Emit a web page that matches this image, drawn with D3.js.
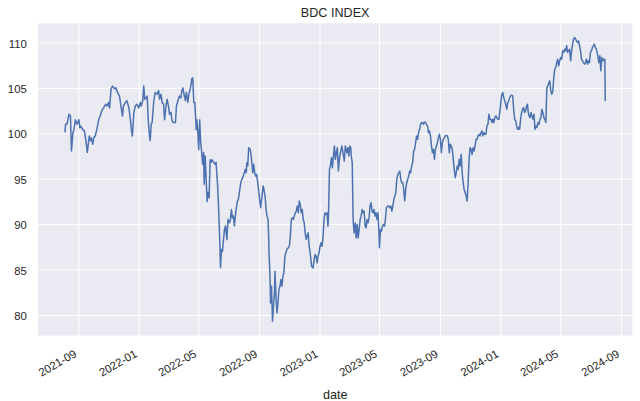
<!DOCTYPE html>
<html><head><meta charset="utf-8">
<script src="https://cdn.jsdelivr.net/npm/d3@7"></script>
<style>
body{margin:0;background:#fff}
svg{display:block}
text{font-family:"Liberation Sans",Arial,sans-serif;fill:#262626}
</style>
</head><body>
<svg id="chart" width="640" height="401"></svg>
<script>
const chartTitle = "BDC INDEX";
const xAxisLabel = "date";
const startDate = "2021-08-05";
// days since startDate
const dayOffsets = [
0,1,4,8,11,13,16,18,21,24,28,30,32,36,39,42,45,47,49,51,53,56,58,61,65,68,71,75,78,82,85,88,90,93,96,100,103,106,110,113,116,118,122,125,129,132,134,136,139,142,145,149,152,154,157,159,161,164,166,168,170,172,174,176,179,182,186,189,191,194,196,199,201,204,206,209,211,214,216,218,221,223,225,227,229,231,234,236,238,241,243,245,248,250,252,254,256,258,260,262,264,265,266,268,270,272,273,274,276,278,280,281,283,285,287,289,291,293,295,297,300,303,305,308,310,312,314,316,318,320,322,324,327,329,332,334,336,338,340,342,345,348,350,
355,357,360,364,366,367,369,371,374,376,379,381,383,385,387,390,393,395,397,400,401,404,406,408,410,411,412,414,415,417,419,421,423,424,426,428,430,432,434,436,438,440,442,444,446,448,451,453,455,457,459,461,463,465,467,469,471,473,475,477,479,481,483,485,487,489,491,493,495,498,501,503,505,507,509,511,513,515,517,519,521,523,525,527,529,531,532,534,536,538,540,542,544,546,548,550,552,554,
555,559,562,564,566,569,571,573,575,577,578,580,581,582,584,586,588,590,592,594,596,598,600,602,604,606,608,610,612,614,616,618,620,622,624,626,628,630,632,634,635,637,639,641,643,645,647,649,652,654,656,658,660,662,664,666,668,670,672,674,676,678,680,682,684,686,688,690,692,694,696,698,700,702,704,706,708,710,712,714,716,718,720,722,724,726,728,730,732,734,736,738,740,742,744,746,748,750,752,754,756,758,760,762,764,766,768,770,772,774,776,778,780,782,784,786,788,790,792,794,796,798,800,802,804,806,808,810,812,814,816,818,820,822,824,826,828,830,832,834,836,838,840,842,844,846,848,850,852,854,856,858,
860,862,864,866,868,870,872,874,876,878,880,882,884,886,888,890,892,894,896,898,900,902,904,906,908,910,912,914,916,918,920,922,924,926,928,930,932,934,935,937,939,941,943,945,947,949,951,953,955,957,959,961,963,965,967,969,971,973,975,977,979,981,983,985,987,989,991,993,995,997,999,1001,1003,1005,1007,1009,1011,1013,1015,1017,1019,1021,1023,1025,1027,1029,1031,1033,1035,1037,1039,1041,1043,1045,1047,1049,1051,1053,1055,1057,1059,1061,1063,1065,1067,1069,1071,1073,1076,1078,1080,1082,1084,1086,1088,1090,1091
];
const indexValues = [
100.1,101.0,101.0,102.1,101.9,98.05,100.1,100.4,101.5,101.0,101.5,100.6,100.8,100.4,100.3,99.3,97.9,98.8,99.7,99.2,99.5,98.8,99.5,99.7,100.6,101.5,101.9,102.6,102.8,103.2,103.0,103.4,102.8,104.9,105.2,104.9,105.0,104.5,104.1,103.0,101.9,103.0,103.4,103.6,102.8,101.5,100.4,99.7,102.3,103.0,103.2,102.8,103.4,103.0,103.6,105.2,103.75,103.9,104.1,101.5,100.1,99.2,101.0,101.2,103.4,104.5,104.3,104.7,103.75,104.3,103.4,103.2,101.5,103.0,103.75,103.0,102.1,102.3,101.4,101.2,101.2,101.2,103.0,103.4,103.75,104.1,103.9,104.7,105.0,104.1,103.6,104.5,103.4,104.3,104.7,105.2,106.0,106.1,103.4,103.4,101.5,100.4,101.5,100.4,98.2,101.5,100.1,99.0,97.9,96.6,97.9,94.4,97.5,94.9,92.5,93.5,92.9,97.1,96.8,97.1,96.8,96.6,96.8,94.4,92.0,89.0,85.2,87.2,87.0,88.3,89.4,89.8,88.3,90.5,90.15,90.5,91.6,90.7,90.9,89.8,91.4,92.5,92.7,
94.56,94.93,95.29,96.03,95.66,96.76,96.40,98.42,98.24,97.50,95.66,96.58,95.66,95.29,95.48,94.19,92.72,91.80,92.72,94.19,94.01,93.09,91.62,90.88,90.51,89.04,86.84,84.26,81.32,83.16,79.30,80.96,82.43,84.82,82.06,80.22,81.32,82.79,83.16,83.90,83.16,84.26,84.63,86.47,86.84,87.21,87.39,87.57,88.68,90.51,90.70,90.51,90.88,91.25,91.43,91.99,91.25,92.54,92.17,91.25,91.62,90.51,90.15,89.04,88.31,88.68,89.04,87.57,86.84,85.37,85.18,86.10,86.65,86.47,85.74,86.47,86.84,87.57,87.94,87.57,88.49,90.51,91.25,91.07,91.25,89.78,90.88,96.03,96.40,97.32,96.21,97.50,98.60,97.13,97.87,98.42,95.85,97.13,
97.50,98.60,97.68,96.95,98.60,97.87,98.42,97.50,98.60,98.42,97.50,96.76,93.09,90.15,89.04,90.15,88.49,89.96,88.49,89.41,90.51,90.88,91.62,91.25,91.43,89.78,89.60,90.51,90.15,90.70,91.99,92.35,91.43,91.25,91.62,90.88,91.25,90.51,91.25,89.04,87.39,89.41,89.23,89.78,89.96,89.78,90.51,91.80,91.99,91.99,91.80,91.99,91.43,91.99,92.72,93.09,93.46,94.93,95.48,95.66,95.85,94.93,94.56,94.56,93.82,92.54,93.82,94.56,94.93,95.29,95.85,95.66,96.40,96.76,98.05,98.24,98.97,99.71,99.34,100.07,100.44,100.99,101.18,101.18,100.99,101.25,101.18,100.99,100.81,100.07,100.26,99.71,98.60,97.87,98.24,97.13,98.24,98.60,98.97,99.52,99.89,99.34,97.87,98.97,99.34,99.52,99.71,99.78,99.71,99.34,97.87,98.79,98.60,98.24,97.13,96.03,95.11,95.66,96.40,96.03,97.13,96.40,97.68,95.66,94.56,93.82,93.46,93.09,92.54,94.56,97.13,98.42,98.24,97.68,98.42,98.05,98.60,99.34,99.34,99.71,99.89,99.71,100.07,100.26,99.71,100.07,99.89,99.89,100.81,100.99,102.10,101.54,
101.54,101.18,101.54,101.18,101.73,101.91,101.73,101.54,101.54,102.28,103.38,104.30,104.49,103.93,103.57,103.20,102.65,103.38,103.57,103.93,104.12,104.19,104.12,102.65,101.54,101.36,100.81,100.44,100.63,100.44,101.54,102.28,102.65,102.83,102.28,102.46,103.01,103.20,102.46,101.91,101.73,102.28,101.91,101.54,102.10,100.44,100.81,100.63,101.18,100.99,101.54,101.73,102.65,102.28,101.73,101.54,101.18,105.04,105.22,105.59,105.77,104.67,104.30,104.67,106.14,107.06,107.24,107.79,108.16,107.43,107.98,108.35,108.16,109.08,108.90,109.26,109.08,109.63,108.90,109.08,109.26,107.98,109.08,109.82,110.37,110.55,110.37,110.18,110.00,110.18,109.63,109.08,108.16,107.98,107.79,107.61,107.79,108.16,107.61,107.98,107.79,108.90,109.08,109.45,109.63,109.82,109.45,109.26,108.53,107.79,108.53,106.88,108.35,107.98,108.16,108.16,103.57
];
const yTickValues = [80, 85, 90, 95, 100, 105, 110];
const xTickDates = ["2021-09-01","2022-01-01","2022-05-01","2022-09-01","2023-01-01","2023-05-01","2023-09-01","2024-01-01","2024-05-01","2024-09-01"];

const W = 640, H = 401;
const margin = {top: 23.3, right: 7.7, bottom: 65.5, left: 38};
const parse = d3.utcParse("%Y-%m-%d");
const t0 = parse(startDate);
const n = Math.min(dayOffsets.length, indexValues.length);
const data = d3.range(n).map(i => ({date: d3.utcDay.offset(t0, dayOffsets[i]), value: indexValues[i]}));

const [xmin, xmax] = d3.extent(data, d => d.date);
const xpad = (xmax - xmin) * 0.05;
const x = d3.scaleUtc().domain([new Date(+xmin - xpad), new Date(+xmax + xpad)])
  .range([margin.left, W - margin.right]);
const [ymin, ymax] = d3.extent(data, d => d.value);
const ypad = (ymax - ymin) * 0.05;
const y = d3.scaleLinear().domain([ymin - ypad, ymax + ypad])
  .range([H - margin.bottom, margin.top]);

const svg = d3.select("#chart");
const pw = W - margin.left - margin.right, ph = H - margin.top - margin.bottom;

svg.append("rect").attr("x", margin.left).attr("y", margin.top)
  .attr("width", pw).attr("height", ph).attr("fill", "#EAEAF2");

const xTicks = xTickDates.map(parse);

const gy = svg.append("g").attr("transform", `translate(${margin.left},0)`)
  .call(d3.axisLeft(y).tickValues(yTickValues).tickSize(-pw).tickFormat(""));
gy.select(".domain").remove();
gy.selectAll("line").attr("stroke", "#fff").attr("stroke-width", 1);

const gx = svg.append("g").attr("transform", `translate(0,${margin.top})`)
  .call(d3.axisBottom(x).tickValues(xTicks).tickSize(ph).tickFormat(""));
gx.select(".domain").remove();
gx.selectAll("line").attr("stroke", "#fff").attr("stroke-width", 1);

const ly = svg.append("g").attr("transform", `translate(${margin.left},0)`)
  .call(d3.axisLeft(y).tickValues(yTickValues).tickSize(0).tickPadding(11.3).tickFormat(d3.format("d")));
ly.select(".domain").remove();
ly.selectAll("text").attr("font-size", "11.3px").attr("font-family", null).attr("fill", "#262626")
  .attr("dy", "0.4em");

const lx = svg.append("g").attr("transform", `translate(0,${H - margin.bottom})`)
  .call(d3.axisBottom(x).tickValues(xTicks).tickSize(0).tickFormat(d3.utcFormat("%Y-%m")));
lx.select(".domain").remove();
lx.selectAll("text")
  .attr("font-size", "11.3px").attr("font-family", null).attr("fill", "#262626")
  .attr("text-anchor", "end")
  .attr("x", -5.5).attr("y", 13.5).attr("dy", "0.72em")
  .attr("transform", "rotate(-30,-5.5,13.5)");

svg.append("path").datum(data)
  .attr("fill", "none").attr("stroke", "#4C72B0").attr("stroke-width", 1.5)
  .attr("stroke-linejoin", "round").attr("stroke-linecap", "butt")
  .attr("d", d3.line().x(d => x(d.date)).y(d => y(d.value)));

svg.append("text").attr("x", margin.left + pw / 2).attr("y", 17.3)
  .attr("text-anchor", "middle").attr("font-size", "12.6px").text(chartTitle);
svg.append("text").attr("x", margin.left + pw / 2).attr("y", 399)
  .attr("text-anchor", "middle").attr("font-size", "12.6px").text(xAxisLabel);
</script>
</body></html>
